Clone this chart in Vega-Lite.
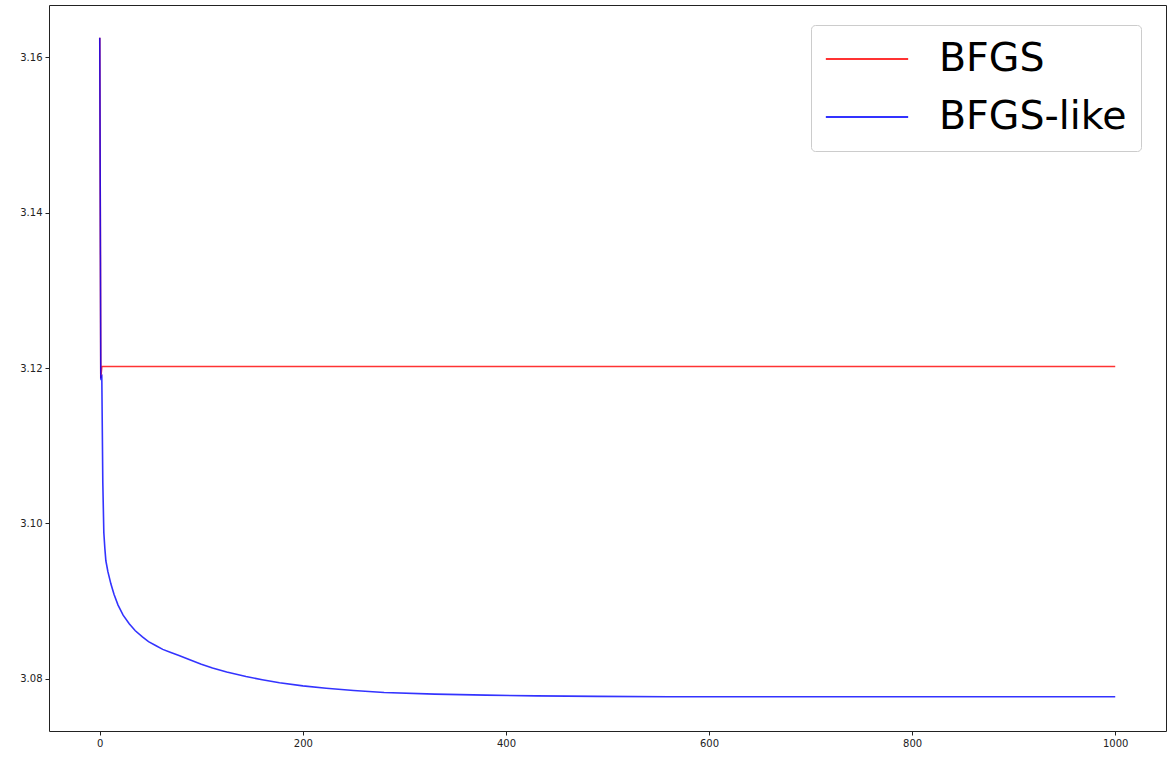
{
  "$schema": "https://vega.github.io/schema/vega-lite/v6.json",
  "width": 1117,
  "height": 726,
  "autosize": {"type": "none"},
  "padding": {"left": 49, "top": 5, "right": 5, "bottom": 31},
  "background": "white",
  "config": {
    "view": {"stroke": "#222222", "strokeWidth": 1},
    "font": "DejaVu Sans",
    "axis": {
      "grid": false,
      "domain": false,
      "tickColor": "#222222",
      "tickSize": 4,
      "labelFont": "DejaVu Sans",
      "labelFontSize": 10,
      "labelColor": "#222222",
      "labelPadding": 3,
      "title": null
    },
    "legend": {
      "orient": "none",
      "legendX": 762,
      "legendY": 20,
      "padding": 14,
      "fillColor": "rgba(255,255,255,0.8)",
      "strokeColor": "#cccccc",
      "cornerRadius": 4,
      "symbolType": "M-2.2,0L2.2,0",
      "symbolSize": 1400,
      "symbolOffset": 22,
      "symbolStrokeWidth": 2,
      "labelFont": "DejaVu Sans",
      "labelFontSize": 39.5,
      "labelColor": "#000000",
      "labelOffset": 52,
      "labelLimit": 400,
      "rowPadding": 18,
      "title": null
    }
  },
  "data": {
    "values": [
      {"series": "BFGS", "x": 0, "y": 3.1625},
      {"series": "BFGS", "x": 1, "y": 3.1187},
      {"series": "BFGS", "x": 2, "y": 3.1202},
      {"series": "BFGS", "x": 1000, "y": 3.1202},
      {"series": "BFGS-like", "x": 0, "y": 3.1625},
      {"series": "BFGS-like", "x": 1, "y": 3.1187},
      {"series": "BFGS-like", "x": 2, "y": 3.1189},
      {"series": "BFGS-like", "x": 3, "y": 3.1052},
      {"series": "BFGS-like", "x": 4, "y": 3.0988},
      {"series": "BFGS-like", "x": 5, "y": 3.0968},
      {"series": "BFGS-like", "x": 6, "y": 3.0952},
      {"series": "BFGS-like", "x": 8, "y": 3.0938},
      {"series": "BFGS-like", "x": 11, "y": 3.0922},
      {"series": "BFGS-like", "x": 14, "y": 3.0909},
      {"series": "BFGS-like", "x": 18, "y": 3.0895},
      {"series": "BFGS-like", "x": 23, "y": 3.0882},
      {"series": "BFGS-like", "x": 29, "y": 3.0871},
      {"series": "BFGS-like", "x": 35, "y": 3.0862},
      {"series": "BFGS-like", "x": 42, "y": 3.0854},
      {"series": "BFGS-like", "x": 48, "y": 3.0848},
      {"series": "BFGS-like", "x": 55, "y": 3.0843},
      {"series": "BFGS-like", "x": 62, "y": 3.0838},
      {"series": "BFGS-like", "x": 70, "y": 3.0834},
      {"series": "BFGS-like", "x": 78, "y": 3.0830},
      {"series": "BFGS-like", "x": 88, "y": 3.0825},
      {"series": "BFGS-like", "x": 100, "y": 3.0819},
      {"series": "BFGS-like", "x": 111, "y": 3.0814},
      {"series": "BFGS-like", "x": 125, "y": 3.0809},
      {"series": "BFGS-like", "x": 144, "y": 3.0803},
      {"series": "BFGS-like", "x": 160, "y": 3.0799},
      {"series": "BFGS-like", "x": 177, "y": 3.0795},
      {"series": "BFGS-like", "x": 200, "y": 3.0791},
      {"series": "BFGS-like", "x": 223, "y": 3.0788},
      {"series": "BFGS-like", "x": 250, "y": 3.07852},
      {"series": "BFGS-like", "x": 280, "y": 3.07826},
      {"series": "BFGS-like", "x": 330, "y": 3.07805},
      {"series": "BFGS-like", "x": 380, "y": 3.07792},
      {"series": "BFGS-like", "x": 430, "y": 3.07782},
      {"series": "BFGS-like", "x": 490, "y": 3.07775},
      {"series": "BFGS-like", "x": 560, "y": 3.07771},
      {"series": "BFGS-like", "x": 650, "y": 3.0777},
      {"series": "BFGS-like", "x": 800, "y": 3.0777},
      {"series": "BFGS-like", "x": 1000, "y": 3.0777}
    ]
  },
  "mark": {"type": "line", "strokeWidth": 1.6, "opacity": 0.8, "clip": true},
  "encoding": {
    "x": {
      "field": "x",
      "type": "quantitative",
      "scale": {"domain": [-50, 1050], "nice": false, "zero": false},
      "axis": {"values": [0, 200, 400, 600, 800, 1000], "format": "d"}
    },
    "y": {
      "field": "y",
      "type": "quantitative",
      "scale": {"domain": [3.0733, 3.1667], "nice": false, "zero": false},
      "axis": {"values": [3.08, 3.10, 3.12, 3.14, 3.16], "format": ".2f"}
    },
    "color": {
      "field": "series",
      "type": "nominal",
      "scale": {"domain": ["BFGS", "BFGS-like"], "range": ["#ff0000", "#0000ff"]},
      "legend": {}
    }
  }
}
